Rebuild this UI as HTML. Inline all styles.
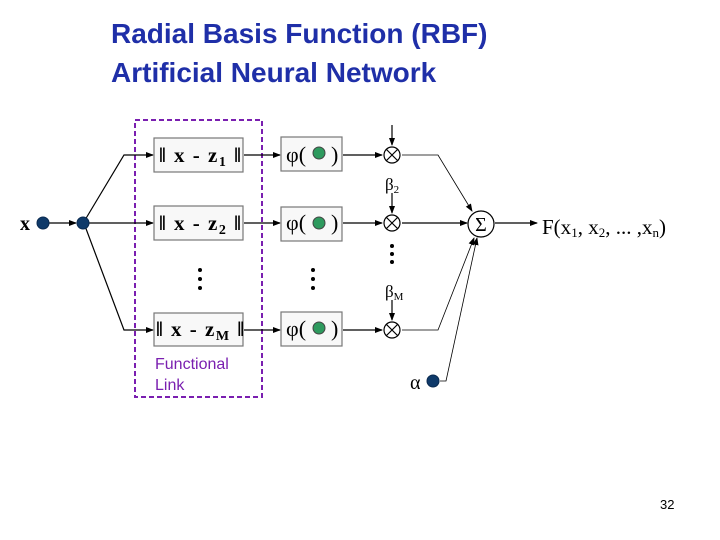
<!DOCTYPE html>
<html><head><style>
body{margin:0;width:720px;height:540px;background:#fff;overflow:hidden;position:relative;font-family:"Liberation Sans",sans-serif}
.t{position:absolute;left:111px;top:14px;color:#1f2fa8;font-size:28px;line-height:39px;font-weight:bold}
</style></head><body>
<div class="t">Radial Basis Function (RBF)<br>Artificial Neural Network</div>
<svg width="720" height="540" style="position:absolute;left:0;top:0" font-family="Liberation Serif">
<defs><marker id="a" markerWidth="8" markerHeight="8" refX="7" refY="4" orient="auto" markerUnits="userSpaceOnUse"><path d="M0,1L8,4L0,7z" fill="#000"/></marker></defs>
<rect x="135" y="120" width="127" height="277" fill="none" stroke="#7a1fb0" stroke-width="2" stroke-dasharray="5,3"/>
<text x="155" y="369" font-family="Liberation Sans" font-size="16" fill="#7a1fb0">Functional</text>
<text x="155" y="390" font-family="Liberation Sans" font-size="16" fill="#7a1fb0">Link</text>
<g stroke="#000" stroke-width="1.2" fill="none">
<line x1="49" y1="223" x2="76" y2="223" marker-end="url(#a)"/>
<path d="M85,220L124,155H153" marker-end="url(#a)"/>
<line x1="88" y1="223" x2="153" y2="223" marker-end="url(#a)"/>
<path d="M85,226L124,330H153" marker-end="url(#a)"/>
<line x1="244" y1="155" x2="280" y2="155" marker-end="url(#a)"/>
<line x1="244" y1="223" x2="280" y2="223" marker-end="url(#a)"/>
<line x1="244" y1="330" x2="280" y2="330" marker-end="url(#a)"/>
<line x1="343" y1="155" x2="382" y2="155" marker-end="url(#a)"/>
<line x1="343" y1="223" x2="382" y2="223" marker-end="url(#a)"/>
<line x1="343" y1="330" x2="382" y2="330" marker-end="url(#a)"/>
<line x1="392" y1="125" x2="392" y2="145" marker-end="url(#a)"/>
<line x1="392" y1="193" x2="392" y2="213" marker-end="url(#a)"/>
<line x1="392" y1="300" x2="392" y2="320" marker-end="url(#a)"/>
<path d="M402,155H438L472,211" stroke-width="0.8" marker-end="url(#a)"/>
<line x1="402" y1="223" x2="467" y2="223" marker-end="url(#a)"/>
<path d="M402,330H438L474,238" stroke-width="0.8" marker-end="url(#a)"/>
<path d="M440,381H446L477,238" stroke-width="0.8" marker-end="url(#a)"/>
<line x1="495" y1="223" x2="537" y2="223" marker-end="url(#a)"/>
</g>
<g fill="#f8f8f8" stroke="#777" stroke-width="1.2">
<rect x="154" y="138" width="89" height="34"/><rect x="154" y="206" width="89" height="34"/><rect x="154" y="313" width="89" height="33"/>
<rect x="281" y="137" width="61" height="34"/><rect x="281" y="207" width="61" height="34"/><rect x="281" y="312" width="61" height="34"/>
</g>
<g font-size="21" font-weight="bold" letter-spacing="1.5">
<text x="159" y="162">‖ x - z<tspan font-size="14" dy="4">1</tspan><tspan dy="-4"> ‖</tspan></text>
<text x="159" y="230">‖ x - z<tspan font-size="14" dy="4">2</tspan><tspan dy="-4"> ‖</tspan></text>
<text x="156" y="336">‖ x - z<tspan font-size="14" dy="4">M</tspan><tspan dy="-4"> ‖</tspan></text>
</g>
<g font-size="22">
<text x="286" y="162">φ(</text><text x="331" y="162">)</text>
<text x="286" y="230">φ(</text><text x="331" y="230">)</text>
<text x="286" y="336">φ(</text><text x="331" y="336">)</text>
</g>
<g fill="#2e9a5e" stroke="#444"><circle cx="319" cy="153" r="6"/><circle cx="319" cy="223" r="6"/><circle cx="319" cy="328" r="6"/></g>
<g fill="#0f3a6a" stroke="#0a2a50"><circle cx="43" cy="223" r="6"/><circle cx="83" cy="223" r="6"/><circle cx="433" cy="381" r="6"/></g>
<g fill="#fff" stroke="#000" stroke-width="1.2">
<circle cx="392" cy="155" r="8"/><circle cx="392" cy="223" r="8"/><circle cx="392" cy="330" r="8"/>
<circle cx="481" cy="224" r="13"/>
</g>
<g stroke="#000" stroke-width="1.2">
<path d="M386,149L398,161M398,149L386,161"/><path d="M386,217L398,229M398,217L386,229"/><path d="M386,324L398,336M398,324L386,336"/>
</g>
<text x="481" y="231" font-size="20" text-anchor="middle">Σ</text>
<g fill="#000"><circle cx="200" cy="270" r="2"/><circle cx="200" cy="279" r="2"/><circle cx="200" cy="288" r="2"/>
<circle cx="313" cy="270" r="2"/><circle cx="313" cy="279" r="2"/><circle cx="313" cy="288" r="2"/>
<circle cx="392" cy="246" r="2"/><circle cx="392" cy="254" r="2"/><circle cx="392" cy="262" r="2"/></g>
<text x="20" y="230" font-size="20" font-weight="bold">x</text>
<text x="385" y="190" font-size="17">β<tspan font-size="11" dy="3">2</tspan></text>
<text x="385" y="297" font-size="17">β<tspan font-size="11" dy="3">M</tspan></text>
<text x="410" y="389" font-size="20">α</text>
<text x="542" y="234" font-size="21">F(x<tspan font-size="13" dy="3">1</tspan><tspan dy="-3">, x</tspan><tspan font-size="13" dy="3">2</tspan><tspan dy="-3">, ... ,x</tspan><tspan font-size="13" dy="3">n</tspan><tspan dy="-3">)</tspan></text>
<text x="660" y="509" font-family="Liberation Sans" font-size="13">32</text>
</svg>
</body></html>
